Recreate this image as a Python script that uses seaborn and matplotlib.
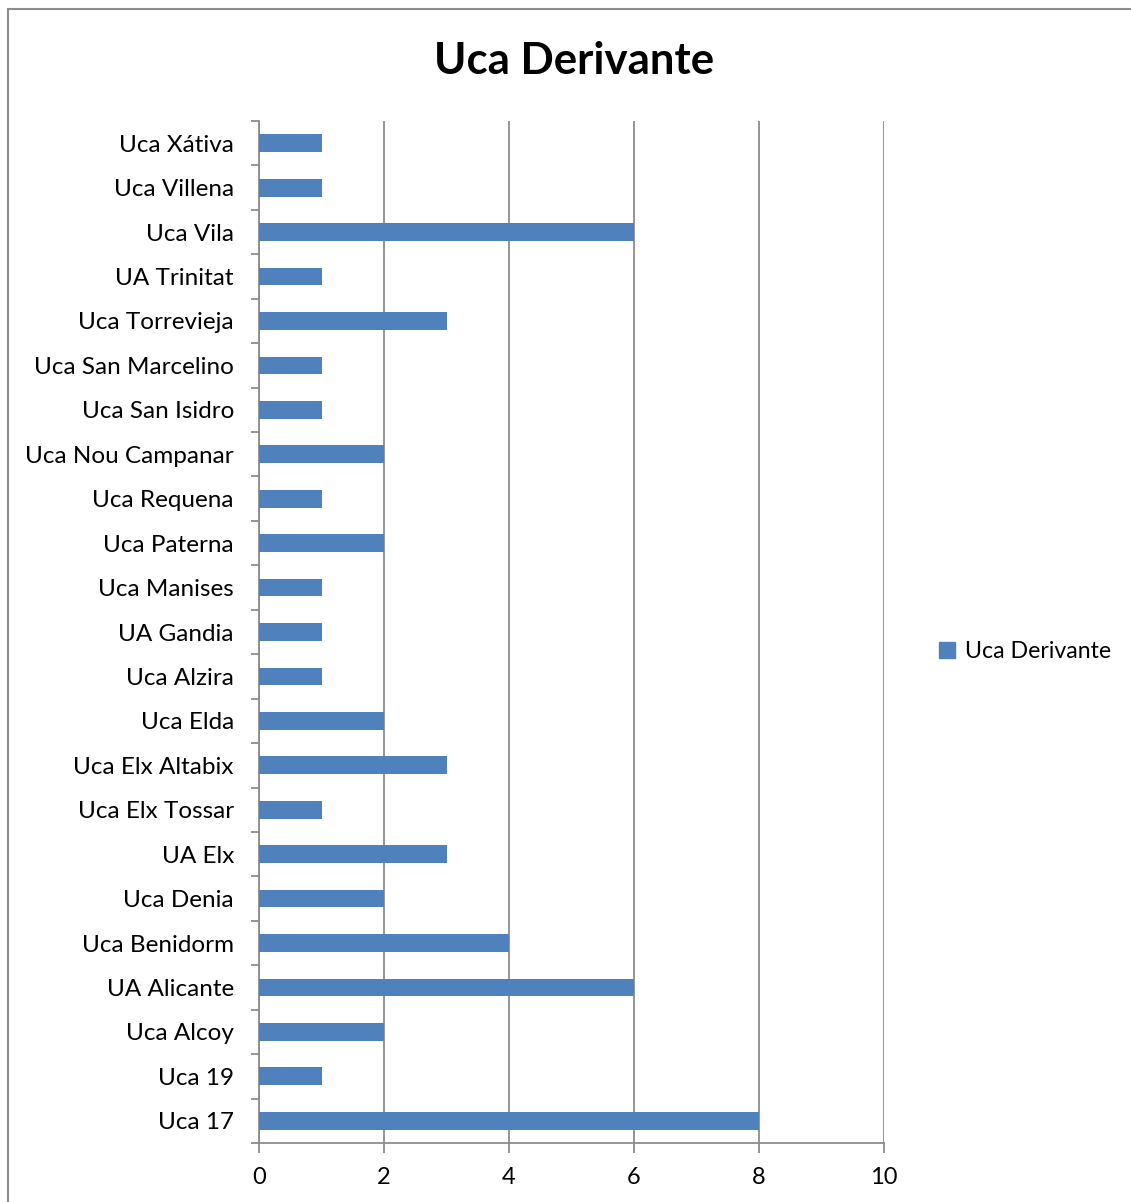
import pandas as pd
import numpy as np
import matplotlib.pyplot as plt
import seaborn as sns
from matplotlib.patches import Rectangle
from matplotlib.ticker import MultipleLocator

# Data (top to bottom as shown)
units = ['Uca Xátiva', 'Uca Villena', 'Uca Vila', 'UA Trinitat', 'Uca Torrevieja',
         'Uca San Marcelino', 'Uca San Isidro', 'Uca Nou Campanar', 'Uca Requena',
         'Uca Paterna', 'Uca Manises', 'UA Gandia', 'Uca Alzira', 'Uca Elda',
         'Uca Elx Altabix', 'Uca Elx Tossar', 'UA Elx', 'Uca Denia', 'Uca Benidorm',
         'UA Alicante', 'Uca Alcoy', 'Uca 19', 'Uca 17']
counts = [1, 1, 6, 1, 3, 1, 1, 2, 1, 2, 1, 1, 1, 2, 3, 1, 3, 2, 4, 6, 2, 1, 8]
series_name = 'Uca Derivante'

data = pd.DataFrame({'Unidad': units, 'Valor': counts})

sns.set_style('white', {'text.color': 'black', 'xtick.color': 'black', 'ytick.color': 'black'})
plt.rcParams['font.family'] = ['Lato', 'DejaVu Sans']

fig = plt.figure(figsize=(11.31, 12.02), dpi=100)
ax = fig.add_axes([0.229, 0.0491, 0.5527, 0.8502])

bar_color = '#4F81BD'
sns.barplot(data=data, x='Valor', y='Unidad', orient='h', color=bar_color,
            width=0.4, saturation=1, linewidth=0, ax=ax, zorder=3)

ax.set_xlim(0, 10)
ax.set_ylim(len(units) - 0.5, -0.5)
ax.xaxis.set_major_locator(MultipleLocator(2))
ax.grid(axis='x', color='#8C8C8C', linewidth=1.3, zorder=0)
ax.set_xlabel('')
ax.set_ylabel('')

for side in ['top', 'right']:
    ax.spines[side].set_visible(False)
for side in ['left', 'bottom']:
    ax.spines[side].set_color('#8C8C8C')
    ax.spines[side].set_linewidth(1.3)

# category boundary ticks on y, value ticks on x
ax.set_yticks(np.arange(len(units) + 1) - 0.5, minor=True)
ax.tick_params(axis='y', which='major', length=0, labelsize=17.5, pad=18, labelcolor='black')
ax.tick_params(axis='y', which='minor', length=6, color='#8C8C8C', width=1.3, direction='out', left=True)
ax.tick_params(axis='x', which='major', length=7, color='#8C8C8C', width=1.3, direction='out',
               bottom=True, labelsize=17, pad=10, labelcolor='black')

fig.text(0.508, 0.949, series_name, ha='center', va='center', fontsize=31.5, fontweight='bold',
         color='black')

# legend
handle = Rectangle((0, 0), 1, 1, color=bar_color)
leg = fig.legend([handle], [series_name], loc='center left', bbox_to_anchor=(0.812, 0.458),
                 frameon=False, fontsize=16.7, handlelength=0.7, handleheight=0.7, handletextpad=0.4)
for t in leg.get_texts():
    t.set_color('black')

# chart border
fig.patches.append(Rectangle((8 / 1131, -0.01), 1.1, 1 - 9 / 1202 + 0.01, transform=fig.transFigure,
                             fill=False, edgecolor='#8C8C8C', linewidth=1.5))

fig.savefig('out.png', dpi=100)
